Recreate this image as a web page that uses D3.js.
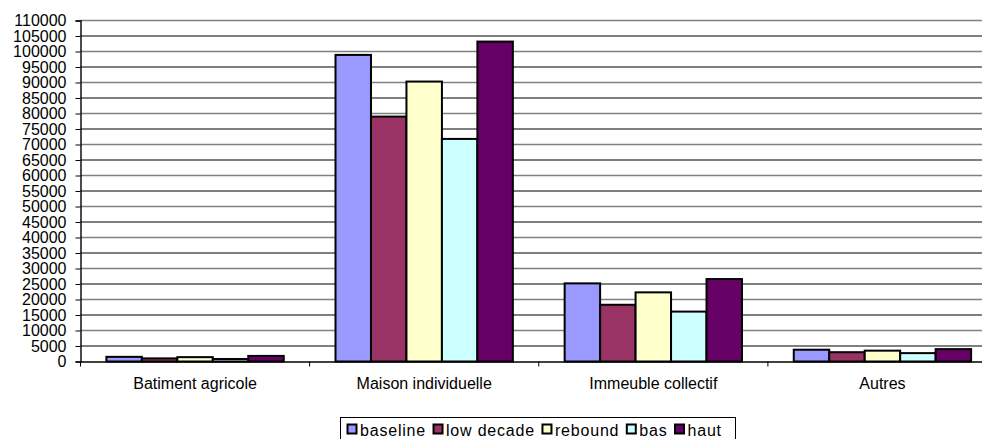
<!DOCTYPE html>
<html>
<head>
<meta charset="utf-8">
<script src="https://cdn.jsdelivr.net/npm/d3@7"></script>
<style>
  html, body { margin: 0; padding: 0; background: #fff; }
  svg { display: block; font-family: "Liberation Sans", Arial, sans-serif; }
</style>
</head>
<body>
<svg id="chart" width="982" height="439"></svg>
<script>
// Building categories and scenario series
const categories = ["Batiment agricole", "Maison individuelle", "Immeuble collectif", "Autres"];
const seriesNames = ["baseline", "low decade", "rebound", "bas", "haut"];
const baseline   = [1500, 98900, 25200, 3800];
const lowDecade  = [1000, 79000, 18300, 3000];
const rebound    = [1400, 90300, 22300, 3500];
const bas        = [800, 71800, 16100, 2700];
const haut       = [1800, 103200, 26600, 4000];
const yTicks = d3.range(0, 110001, 5000);
const colors = ["#9999FF", "#993366", "#FFFFCC", "#CCFFFF", "#660066"];

const seriesValues = [baseline, lowDecade, rebound, bas, haut];
const FONT = "Liberation Sans, Arial, sans-serif";

const svg = d3.select("#chart");
const margin = { left: 80.5, top: 20.5, bottom: 361.5 };
const plotRight = 997;

const x0 = d3.scaleBand().domain(categories).range([margin.left, plotRight]).paddingInner(0).paddingOuter(0);
const x1 = d3.scaleBand().domain(seriesNames).range([0, x0.bandwidth()]).paddingInner(0).paddingOuter(0.73);
const y = d3.scaleLinear().domain([0, 110000]).range([margin.bottom, margin.top]);

// Horizontal gridlines: darker at odd multiples of 5000, grey at multiples of 10000
svg.append("g")
  .selectAll("line")
  .data(yTicks.filter(d => d > 0))
  .join("line")
  .attr("x1", margin.left).attr("x2", plotRight)
  .attr("y1", d => y(d)).attr("y2", d => y(d))
  .attr("stroke", d => d % 10000 === 0 ? "#808080" : "#000")
  .attr("stroke-width", d => d % 10000 === 0 ? 1.6 : 1);

// Bars
const groups = svg.append("g")
  .selectAll("g")
  .data(categories)
  .join("g")
  .attr("transform", d => `translate(${x0(d)},0)`);

groups.selectAll("rect")
  .data((c, i) => seriesNames.map((s, j) => ({ s, v: seriesValues[j][i], c: colors[j] })))
  .join("rect")
  .attr("x", d => x1(d.s))
  .attr("width", x1.bandwidth())
  .attr("y", d => y(d.v))
  .attr("height", d => y(0) - y(d.v))
  .attr("fill", d => d.c)
  .attr("stroke", "#000")
  .attr("stroke-width", 2);

// Y axis
const yAxis = d3.axisLeft(y).tickValues(yTicks).tickSize(5).tickPadding(9).tickFormat(d3.format("d"));
const gy = svg.append("g").attr("transform", `translate(${margin.left},0)`).call(yAxis);
gy.select(".domain").attr("stroke", "#000").attr("stroke-width", 1.4);
gy.selectAll(".tick line").attr("stroke", "#000");
gy.selectAll("text").attr("font-size", 16).attr("fill", "#000").attr("font-family", FONT);

// X axis
const xAxis = d3.axisBottom(x0).tickSize(0).tickPadding(16);
const gx = svg.append("g").attr("transform", `translate(0,${margin.bottom})`).call(xAxis);
gx.select(".domain").attr("stroke", "#000").attr("stroke-width", 1.4);
gx.selectAll("text").attr("font-size", 16).attr("fill", "#000").attr("font-family", FONT);

// Category separators on the x axis
svg.append("g")
  .selectAll("line")
  .data(categories)
  .join("line")
  .attr("x1", d => x0(d)).attr("x2", d => x0(d))
  .attr("y1", margin.bottom).attr("y2", margin.bottom + 5)
  .attr("stroke", "#000");

// Legend
const legend = svg.append("g");
legend.append("rect")
  .attr("x", 340.5).attr("y", 417.5).attr("width", 395).attr("height", 30)
  .attr("fill", "#fff").attr("stroke", "#000");

let lx = 347;
const items = legend.selectAll("g.item").data(seriesNames).join("g").attr("class", "item");
items.each(function(d, i) {
  const g = d3.select(this);
  g.append("rect")
    .attr("x", 0.5).attr("y", 424.5).attr("width", 9).attr("height", 9)
    .attr("fill", colors[i]).attr("stroke", "#000").attr("stroke-width", 2);
  const t = g.append("text")
    .attr("x", 13).attr("y", 436)
    .attr("font-size", 16).attr("letter-spacing", 0.8).attr("fill", "#000")
    .attr("font-family", FONT)
    .text(d);
  g.attr("transform", `translate(${lx},0)`);
  lx += 13 + t.node().getComputedTextLength() + 7;
});
</script>
</body>
</html>
